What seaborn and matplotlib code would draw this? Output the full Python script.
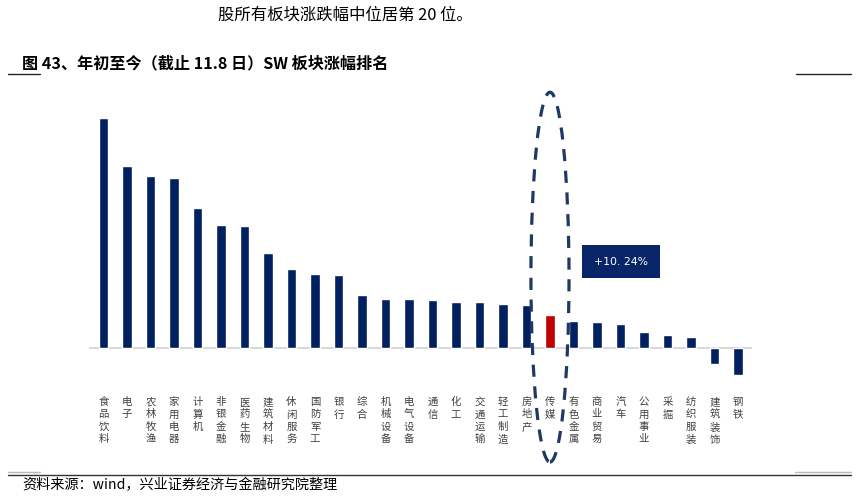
import matplotlib
matplotlib.use("Agg")
import matplotlib.pyplot as plt
import seaborn as sns
import pandas as pd
from matplotlib.patches import Ellipse, Rectangle
from matplotlib.lines import Line2D

# SW sector year-to-date change (%)
sectors = ["食品饮料", "电子", "农林牧渔", "家用电器", "计算机", "非银金融", "医药生物",
           "建筑材料", "休闲服务", "国防军工", "银行", "综合", "机械设备", "电气设备",
           "通信", "化工", "交通运输", "轻工制造", "房地产", "传媒", "有色金属",
           "商业贸易", "汽车", "公用事业", "采掘", "纺织服装", "建筑装饰", "钢铁"]
changes = [72.9, 57.6, 54.5, 54.0, 44.3, 39.0, 38.7, 30.0, 24.9, 23.4, 23.0, 16.7,
           15.6, 15.3, 15.1, 14.4, 14.4, 13.7, 13.4, 10.24, 8.4, 8.1, 7.4, 4.9, 4.1,
           3.3, -5.2, -8.7]
highlight = "传媒"

navy = "#002060"
red = "#C00000"

df = pd.DataFrame({"sector": sectors, "change": changes})
colors = {s: (red if s == highlight else navy) for s in sectors}

sns.set_style("white")
plt.rcParams["font.family"] = ["Noto Sans CJK SC", "DejaVu Sans"]

fig = plt.figure(figsize=(8.56, 4.98), dpi=100)
ax = fig.add_axes([0.1044, 0.2389, 0.7742, 0.5368])

sns.barplot(data=df, x="sector", y="change", hue="sector", palette=colors,
            legend=False, width=0.4, ax=ax, saturation=1)

ax.set_xlim(-0.6, len(sectors) - 0.4)
ax.set_ylim(-10, 75)
ax.axhline(0, color="#d9d9d9", lw=1.5, zorder=0)
for sp in ax.spines.values():
    sp.set_visible(False)
ax.set_yticks([])
ax.set_xlabel("")
ax.set_ylabel("")
ax.set_xticks(range(len(sectors)))
ax.set_xticklabels(["\n".join(s) for s in sectors], fontsize=7.5,
                   color="#404040", linespacing=1.3, va="top")
ax.tick_params(axis="x", length=0, pad=13)

# highlight ellipse and value box
hi = sectors.index(highlight)
hv = changes[hi]
ax.add_patch(Ellipse((hi, 22.4), 1.62, 117.6, fill=False, ec="#1f3864", lw=2.3,
                     ls=(0, (3.8, 3.0)), clip_on=False, zorder=5))
ax.add_patch(Rectangle((hi + 1.36, 22.1), 3.32, 10.5, fc="#082567", ec="none",
                       clip_on=False, zorder=5))
ax.text(hi + 3.02, 27.35, f"+{hv:.2f}%".replace(".", ". "), color="white",
        fontsize=7.8, ha="center", va="center", zorder=6,
        family=["DejaVu Sans"])

# page text around the chart
fig.text(218 / 856, 1 - 15 / 498, "股所有板块涨跌幅中位居第 20 位。", fontsize=11.8,
         ha="left", va="center", color="black")
fig.text(22 / 856, 1 - 63 / 498, "图 43、年初至今（截止 11.8 日）SW 板块涨幅排名",
         fontsize=11.6, fontweight="bold", ha="left", va="center", color="black")
fig.text(22 / 856, 1 - 485 / 498, "资料来源：wind，兴业证券经济与金融研究院整理",
         fontsize=10.2, ha="left", va="center", color="black")

def hline(x0, x1, y, color, lw):
    fig.add_artist(Line2D([x0 / 856, x1 / 856], [1 - y / 498, 1 - y / 498],
                          color=color, lw=lw, transform=fig.transFigure))

hline(8, 40, 74, "#222222", 1.0)
hline(796, 851, 74, "#222222", 1.0)
hline(8, 40, 472, "#bbbbbb", 1.0)
hline(795, 851, 472, "#bbbbbb", 1.0)
hline(8, 851, 474.5, "#333333", 1.0)

fig.savefig("out.png", dpi=100)
